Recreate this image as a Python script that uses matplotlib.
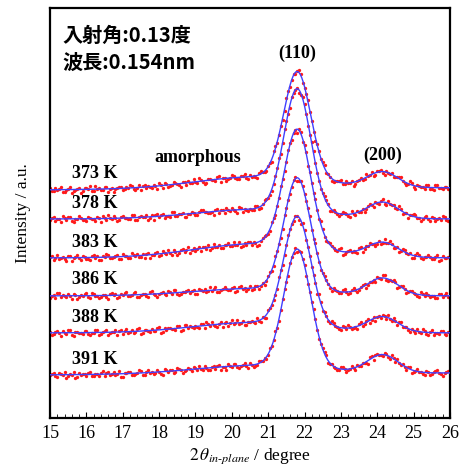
import numpy as np
import matplotlib.pyplot as plt
from matplotlib.ticker import MultipleLocator

plt.rcParams['font.family'] = ['Liberation Serif', 'DejaVu Serif']
plt.rcParams['mathtext.fontset'] = 'stix'

# DATA: in-plane scan, 15-26 deg, 0.05 deg step (intensity in arbitrary units)
two_theta = np.round(np.linspace(15.0, 26.0, 221), 3)

temps = ['373 K', '378 K', '383 K', '386 K', '388 K', '391 K']
offsets = [228, 199, 160, 122, 85, 43]

int_373 = [2, -1, -1, 2, 0, 1, 3, -2, -2, 0, 1, 3, -3, -1, 0, 1, 2, -3, -1, 2,
           2, 1, 4, -1, -1, 4, 1, 2, 0, 0, 3, 3, -2, 1, 2, -2, 1, 2, 3, 3,
           0, 1, 3, 2, 5, 4, 1, 0, 2, 5, 0, 4, 5, 2, 4, 3, 2, 5, 4, 1,
           7, 5, 2, 7, 6, 3, 4, 5, 8, 7, 6, 5, 3, 8, 8, 5, 9, 7, 7, 11,
           8, 7, 12, 10, 8, 6, 7, 11, 11, 10, 10, 9, 13, 14, 8, 12, 12, 9, 11, 12,
           15, 14, 12, 11, 11, 14, 14, 16, 12, 11, 15, 13, 14, 13, 12, 17, 19, 18, 18, 19,
           24, 27, 28, 39, 44, 47, 55, 64, 70, 79, 92, 99, 103, 110, 116, 116, 119, 120, 116, 107,
           102, 96, 90, 78, 69, 58, 49, 46, 39, 31, 28, 25, 17, 16, 13, 9, 8, 9, 9, 9,
           10, 6, 6, 9, 7, 7, 9, 4, 6, 9, 10, 12, 10, 11, 16, 14, 15, 18, 14, 15,
           19, 19, 20, 17, 15, 19, 17, 16, 17, 13, 13, 13, 13, 13, 9, 7, 5, 6, 9, 7,
           3, 1, 5, 4, 3, 3, 1, 5, 5, 1, 1, 0, 5, 5, 2, 2, 1, 3, 3, 1,
           0]
int_378 = [-1, 1, 2, -2, 0, 0, -3, 3, 1, -1, 2, 2, -2, -3, 0, 0, 3, 1, -1, -1,
           -2, 2, 1, 0, 0, -2, 2, 1, -3, 3, 1, -1, 4, 1, 0, 3, 1, -2, -1, 2,
           3, 1, 1, 0, 0, 4, 4, -1, -1, 2, 3, 2, 2, 4, -1, 1, 4, -1, 4, 5,
           2, 4, 5, 1, 3, 3, 2, 7, 7, 3, 3, 5, 5, 6, 2, 2, 5, 5, 7, 6,
           4, 4, 7, 9, 9, 7, 7, 6, 6, 7, 4, 9, 10, 6, 9, 9, 6, 11, 9, 8,
           11, 9, 8, 6, 12, 11, 7, 10, 9, 8, 10, 9, 9, 13, 13, 10, 11, 15, 19, 20,
           21, 24, 28, 35, 43, 51, 61, 65, 76, 90, 98, 105, 111, 122, 126, 129, 131, 126, 124, 122,
           115, 105, 93, 84, 77, 68, 56, 46, 38, 30, 26, 23, 19, 15, 8, 8, 9, 7, 5, 3,
           5, 7, 6, 5, 3, 2, 8, 5, 4, 8, 7, 7, 10, 7, 10, 13, 15, 14, 12, 17,
           16, 15, 18, 20, 15, 14, 18, 15, 14, 14, 11, 10, 13, 10, 5, 6, 6, 1, 4, 4,
           5, 4, 1, 1, -2, 0, 2, 3, 0, -2, 2, 1, -2, 0, 1, -1, 3, 2, -1, -2,
           0]
int_383 = [1, 2, -2, 0, 3, -1, 0, 1, -1, -3, 2, 2, -3, 0, 1, 3, 0, -2, 2, 1,
           -1, -1, -2, 2, 3, 0, 2, -2, -2, 2, 1, 4, 3, 0, 0, 1, 2, 3, -1, -1,
           4, 2, 2, 0, 0, 5, 3, 2, 4, 1, 1, 4, 0, 4, 5, 0, 3, 3, 5, 6,
           2, 3, 7, 5, 4, 8, 5, 3, 8, 6, 3, 5, 8, 9, 6, 8, 11, 5, 8, 10,
           7, 9, 11, 7, 11, 11, 9, 13, 8, 10, 14, 11, 11, 13, 10, 10, 13, 13, 15, 12,
           12, 16, 13, 13, 16, 11, 12, 15, 13, 16, 16, 13, 16, 15, 12, 13, 17, 20, 22, 23,
           24, 27, 36, 40, 43, 52, 60, 72, 79, 87, 96, 108, 115, 118, 125, 128, 125, 129, 126, 116,
           113, 106, 92, 86, 75, 65, 59, 48, 39, 37, 29, 21, 17, 16, 15, 12, 10, 8, 7, 9,
           10, 3, 4, 6, 7, 8, 6, 7, 6, 5, 10, 11, 6, 9, 12, 12, 15, 14, 14, 12,
           14, 17, 14, 15, 19, 15, 15, 17, 14, 10, 10, 11, 6, 7, 9, 8, 5, 4, 5, 0,
           0, 3, 5, 3, 0, -1, 1, 1, 3, 1, -1, -1, 1, 3, -3, -2, 2, 0, 0, 1,
           -1]
int_386 = [-2, 0, 1, -2, 3, 3, -1, 1, 0, -1, 2, 0, -3, 2, 1, -3, -1, 1, 0, 2,
           3, -1, -2, 3, 2, 0, 0, -2, -1, 1, 1, -1, -3, 2, 3, 1, 2, -2, -1, 2,
           1, 3, 4, 0, 0, 1, 3, 4, -1, -1, 1, 2, 2, 0, -1, 4, 5, 2, 1, -1,
           2, 3, 4, 2, 1, 5, 4, 2, 6, 6, 2, 1, 2, 4, 4, 5, 6, 3, 5, 6,
           2, 2, 7, 6, 5, 7, 4, 5, 9, 5, 7, 9, 4, 4, 6, 7, 9, 7, 6, 6,
           8, 9, 4, 5, 9, 10, 7, 8, 5, 7, 10, 6, 7, 10, 10, 7, 10, 13, 11, 15,
           20, 24, 25, 30, 40, 45, 52, 58, 67, 81, 88, 96, 102, 109, 116, 119, 115, 115, 115, 110,
           102, 95, 88, 80, 66, 57, 53, 43, 34, 26, 23, 20, 16, 12, 8, 5, 8, 6, 5, 3,
           3, 6, 7, 4, 2, 3, 6, 8, 6, 4, 6, 9, 11, 12, 8, 11, 14, 14, 16, 14,
           19, 18, 17, 21, 21, 16, 15, 16, 15, 16, 14, 8, 9, 10, 10, 7, 3, 4, 5, 5,
           3, 2, 0, -1, 4, 2, 0, 3, 1, -1, 0, 0, -2, -2, 2, 2, -1, 1, 3, -1,
           0]
int_388 = [1, -2, -1, 1, 2, 0, -3, 2, 0, -1, 3, 3, -2, -3, 1, 1, 0, 0, -1, 2,
           2, -1, -2, 0, 0, 3, 3, -2, -1, 1, 2, 3, -2, 0, 1, 1, 3, -2, 2, 3,
           -1, 2, 4, 0, 1, 3, 0, 1, 4, 5, -1, 0, 3, 3, 2, 1, 4, 2, 2, 5,
           6, 0, 1, 5, 3, 5, 5, 4, 4, 3, 7, 7, 2, 3, 8, 8, 5, 7, 6, 5,
           7, 6, 5, 9, 9, 5, 11, 9, 7, 11, 8, 7, 6, 9, 11, 6, 10, 11, 7, 10,
           13, 9, 10, 13, 9, 10, 12, 8, 8, 11, 11, 12, 11, 10, 15, 12, 11, 16, 15, 15,
           23, 25, 28, 33, 38, 44, 56, 63, 68, 78, 88, 98, 104, 109, 112, 117, 117, 113, 109, 110,
           103, 93, 86, 77, 66, 58, 50, 39, 39, 31, 22, 21, 17, 12, 10, 12, 10, 7, 6, 4,
           3, 7, 6, 4, 8, 6, 4, 5, 6, 4, 9, 11, 7, 9, 12, 14, 10, 13, 16, 12,
           16, 17, 15, 18, 17, 14, 18, 14, 12, 15, 12, 8, 11, 11, 6, 6, 6, 3, 1, 4,
           2, 0, 4, 1, 0, 4, 2, -1, -2, 1, 3, -2, 0, 0, -1, 2, 2, -1, -2, 1,
           1]
int_391 = [0, 1, 2, -1, -2, 2, 1, 0, 3, -3, -1, 1, 0, 3, -3, -2, 2, 0, 1, 1,
           -1, 2, 3, -1, -1, 1, 1, -1, 2, 4, -1, 2, 3, 0, 1, 3, 0, 1, 4, -2,
           -2, 2, 2, 3, 3, 0, 0, 1, 2, 5, 4, 0, 0, 3, 5, 2, 3, 1, 2, 5,
           3, 1, 0, 6, 5, 3, 5, 5, 2, 3, 7, 6, 5, 2, 4, 5, 7, 6, 4, 8,
           7, 5, 9, 6, 5, 9, 7, 5, 5, 8, 9, 6, 9, 10, 5, 8, 8, 5, 11, 9,
           8, 11, 11, 8, 7, 9, 10, 12, 9, 7, 12, 10, 8, 9, 10, 14, 14, 14, 17, 16,
           20, 27, 29, 35, 44, 47, 54, 65, 76, 86, 93, 99, 112, 118, 122, 127, 123, 124, 123, 116,
           110, 99, 91, 83, 73, 66, 56, 45, 36, 31, 27, 23, 20, 12, 11, 11, 8, 7, 5, 5,
           8, 8, 6, 3, 5, 6, 9, 7, 5, 10, 9, 9, 12, 12, 12, 11, 18, 19, 15, 20,
           21, 20, 20, 19, 22, 21, 18, 16, 20, 17, 13, 16, 12, 10, 11, 8, 5, 8, 8, 2,
           3, 4, 6, 3, 3, 1, 0, 4, 3, 0, 1, 3, 4, 5, 2, 1, -1, 2, 3, 4,
           4]

profiles = [int_373, int_378, int_383, int_386, int_388, int_391]

# fit: linear background + amorphous halo + (110) + (200)
def gauss(t, c, w):
    return np.exp(-(t - c) ** 2 / (2 * w ** 2))

def basis(t):
    return np.column_stack([np.ones_like(t), t - 15, gauss(t, 20.7, 1.7),
                            gauss(t, 21.8, 0.37), gauss(t, 24.15, 0.42)])

x_fine = np.linspace(15, 26, 600)

fig = plt.figure(figsize=(4.6, 4.65), dpi=100)
ax = fig.add_axes([50 / 460, 47 / 465, 400 / 460, 410 / 465])

for label, off, y in zip(temps, offsets, profiles):
    y = np.asarray(y, dtype=float)
    coef, *_ = np.linalg.lstsq(basis(two_theta), y, rcond=None)
    ax.plot(two_theta, y + off, 'o', color='#ff1a1a', markersize=2.4,
            markeredgewidth=0, zorder=2)
    ax.plot(x_fine, basis(x_fine) @ coef + off, color='#4040ff',
            linewidth=1.0, zorder=3)
    ax.text(15.6, off + 16, label, fontsize=13, fontweight='bold',
            ha='left', va='center')

ax.text(21.79, 365, '(110)', fontsize=13, fontweight='bold', ha='center', va='center')
ax.text(24.16, 263, '(200)', fontsize=13, fontweight='bold', ha='center', va='center')
ax.text(19.06, 260, 'amorphous', fontsize=13, fontweight='bold', ha='center', va='center')

ax.text(0.03, 0.934, '入射角:0.13度', transform=ax.transAxes, fontsize=14.5,
        fontweight='bold', family=['Noto Sans CJK JP', 'DejaVu Sans'], ha='left', va='center')
ax.text(0.03, 0.868, '波長:0.154nm', transform=ax.transAxes, fontsize=14.5,
        fontweight='bold', family=['Noto Sans CJK JP', 'DejaVu Sans'], ha='left', va='center')

ax.set_xlim(15, 26)
ax.set_ylim(0, 410)
ax.set_yticks([])
ax.xaxis.set_major_locator(MultipleLocator(1))
ax.xaxis.set_minor_locator(MultipleLocator(0.2))
ax.tick_params(axis='x', which='major', direction='in', length=4, width=0.8,
               labelsize=13, pad=5)
ax.tick_params(axis='x', which='minor', direction='in', length=3, width=0.6)

for spine in ax.spines.values():
    spine.set_linewidth(1.6)

ax.set_xlabel(r'$2\,\theta_{in\text{-}plane}$ / degree', fontsize=12.5, labelpad=3)
ax.set_ylabel('Intensity / a.u.', fontsize=12.5, labelpad=14)

plt.savefig('out.png', dpi=100)
